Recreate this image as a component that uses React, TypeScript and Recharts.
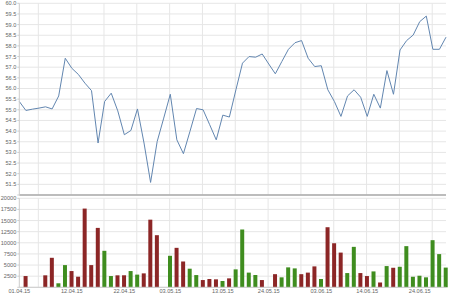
import React from "react";
import { Bar, BarChart, CartesianGrid, Cell, Line, LineChart, ReferenceLine, XAxis, YAxis } from "recharts";

const prices = [
  55.39, 54.97, 55.03, 55.08, 55.14, 55.04, 55.65, 57.42, 56.95, 56.66,
  56.25, 55.9, 53.44, 55.39, 55.78, 54.95, 53.83, 54.03, 55.04, 53.44,
  51.59, 53.51, 54.61, 55.73, 53.59, 52.94, 53.99, 55.06, 55.0, 54.3,
  53.59, 54.75, 54.66, 55.94, 57.19, 57.5, 57.47, 57.62, 57.15, 56.69,
  57.27, 57.84, 58.15, 58.25, 57.42, 57.03, 57.07, 55.94, 55.39, 54.69,
  55.65, 55.94, 55.59, 54.69, 55.73, 55.08, 56.84, 55.73, 57.81, 58.25,
  58.51, 59.14, 59.4, 57.84, 57.84, 58.41
];

const volumes = [
  0, 2530, 0, 0, 2690, 6630, 900, 4990, 3650, 2380,
  17690, 4990, 13350, 8200, 2530, 2690, 2700, 3650, 2850, 3130,
  15200, 11710, 0, 7080, 8870, 5800, 4180, 2750, 1630, 1860,
  1790, 1410, 2010, 4030, 12990, 3300, 2750, 1630, 0, 2950,
  2240, 4480, 4250, 2950, 3300, 4700, 1860, 13500, 9900, 7800,
  3200, 9090, 3200, 2530, 3570, 1080, 4770, 4390, 4610, 9250,
  2370, 2600, 2240, 10590, 7460, 4430
];

// u = green bar, d = red bar
const directions = [
  "d", "d", "d", "d", "d", "d", "u", "u", "d", "d",
  "d", "d", "d", "u", "u", "d", "d", "u", "u", "d",
  "d", "d", "d", "u", "d", "d", "u", "u", "d", "d",
  "d", "u", "d", "u", "u", "u", "u", "d", "d", "d",
  "u", "u", "u", "d", "d", "d", "u", "d", "d", "d",
  "u", "u", "d", "d", "u", "d", "u", "d", "u", "u",
  "u", "u", "u", "u", "u", "u"
];

const dateLabels = ["01.04.15", "12.04.15", "22.04.15", "03.05.15", "13.05.15", "24.05.15", "03.06.15", "14.06.15", "24.06.15"];
const labelIdx = [0, 8, 16, 23, 31, 38, 46, 53, 61];
const gridIdx = [2.9, 7.9, 12.9, 17.9, 22.9, 27.9, 32.9, 37.9, 42.9, 47.9, 52.9, 57.9, 62.9];
const priceTicks = [51, 51.5, 52, 52.5, 53, 53.5, 54, 54.5, 55, 55.5, 56, 56.5, 57, 57.5, 58, 58.5, 59, 59.5, 60];
const volumeTicks = [0, 2500, 5000, 7500, 10000, 12500, 15000, 17500, 20000];
const xDomain = [0, 65];

const data = prices.map((p, i) => ({ i, price: p, volume: volumes[i], dir: directions[i] }));

const tickStyle = { fontSize: 5.6, fill: "#666", fontFamily: "Liberation Sans, Arial, sans-serif" };

// vertical grid lines every 5 sessions, independent of the date labels
const gridX = ({ xAxis, offset }: any) =>
  gridIdx.map((t) =>
    xAxis && typeof xAxis.scale === "function"
      ? xAxis.scale(t)
      : offset.left + ((t - xDomain[0]) / (xDomain[1] - xDomain[0])) * offset.width
  );

export default function App() {
  return (
    <div style={{ position: "absolute", left: 0, top: 0, width: 450, height: 300, background: "#fff" }}>
      <div style={{ position: "absolute", left: 0, top: 0 }}>
        <LineChart width={450} height={196} data={data} margin={{ top: 3.3, right: 4, left: 0, bottom: 1 }}>
          <CartesianGrid stroke="#e6e6e6" verticalCoordinatesGenerator={gridX} />
          <XAxis dataKey="i" type="number" domain={xDomain} hide />
          <YAxis
            type="number"
            domain={[51, 60]}
            ticks={priceTicks}
            width={19.3}
            interval={0}
            tick={tickStyle}
            tickSize={2}
            tickMargin={1}
            stroke="#ccc"
            tickFormatter={(v: number) => (v === 51 ? "" : v.toFixed(1))}
          />
          <ReferenceLine y={51} stroke="#aaa" strokeWidth={1.5} />
          <Line dataKey="price" stroke="#6286b0" strokeWidth={1} dot={false} isAnimationActive={false} />
        </LineChart>
      </div>
      <div style={{ position: "absolute", left: 0, top: 190 }}>
        <BarChart width={450} height={110} data={data} margin={{ top: 8.3, right: 4, left: 0, bottom: 0 }}>
          <CartesianGrid stroke="#e6e6e6" verticalCoordinatesGenerator={gridX} />
          <XAxis
            dataKey="i"
            type="number"
            domain={xDomain}
            ticks={labelIdx}
            interval={0}
            height={12.7}
            tick={tickStyle}
            tickSize={2}
            tickMargin={0}
            tickLine={false}
            stroke="#ccc"
            tickFormatter={(v: number) => dateLabels[labelIdx.indexOf(v)] ?? ""}
          />
          <YAxis
            type="number"
            domain={[0, 20000]}
            ticks={volumeTicks}
            width={19.3}
            interval={0}
            tick={tickStyle}
            tickSize={2}
            tickMargin={1}
            stroke="#ccc"
            tickFormatter={(v: number) => (v === 0 ? "" : String(v))}
          />
          <Bar dataKey="volume" barSize={4} isAnimationActive={false}>
            {data.map((d) => (
              <Cell key={d.i} fill={d.dir === "u" ? "#3f8d1f" : "#8c2626"} />
            ))}
          </Bar>
        </BarChart>
      </div>
    </div>
  );
}
